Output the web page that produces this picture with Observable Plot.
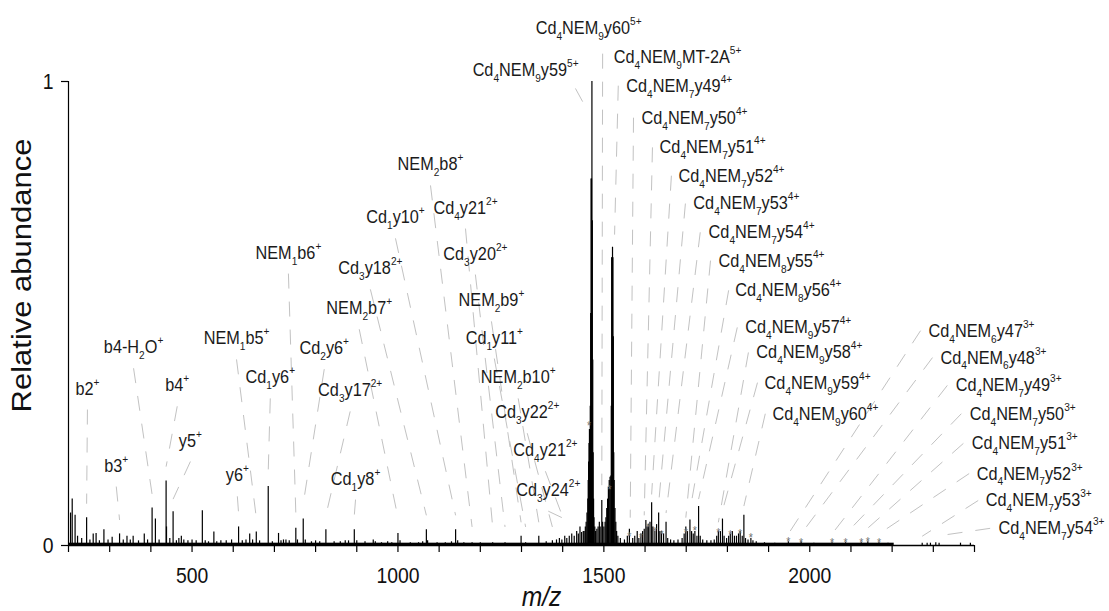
<!DOCTYPE html>
<html>
<head>
<meta charset="utf-8">
<script src="https://cdn.jsdelivr.net/npm/d3@7"></script>
<script src="https://cdn.jsdelivr.net/npm/@observablehq/plot@0.6"></script>
<style>
  html, body { margin: 0; padding: 0; background: #fff; }
  #chart svg { display: block; }
</style>
</head>
<body>
<div id="chart"></div>
<script>
// ---- data ----
// spectrum sticks: [m/z, relative abundance]
const peaks = [
  [205,0.07],[209,0.10],[216,0.065],[222,0.02],[232,0.015],[244,0.06],[252,0.012],[260,0.025],[267,0.026],
  [275,0.01],[286,0.034],[296,0.012],[306,0.018],[324,0.025],[333,0.012],[342,0.02],[350,0.012],[357,0.02],
  [370,0.01],[384,0.025],[392,0.012],[403,0.081],[411,0.057],[420,0.012],[437,0.139],[438,0.04],[446,0.015],
  [454,0.073],[462,0.01],[468,0.015],[474,0.02],[480,0.012],[490,0.01],[500,0.012],[510,0.01],[525,0.075],
  [532,0.01],[540,0.008],[553,0.029],[560,0.008],[570,0.01],[583,0.01],[596,0.012],[613,0.04],[622,0.01],
  [631,0.012],[640,0.025],[647,0.012],[656,0.029],[664,0.01],[685,0.127],[695,0.008],[710,0.026],[716,0.01],
  [722,0.012],[728,0.012],[736,0.01],[752,0.037],[756,0.012],[770,0.057],[775,0.012],[790,0.008],[800,0.01],
  [810,0.008],[825,0.034],[845,0.008],[860,0.008],[872,0.01],[880,0.01],[894,0.034],[900,0.01],[920,0.008],
  [940,0.012],[945,0.008],[960,0.006],[975,0.008],[985,0.006],[1000,0.026],[1005,0.01],[1030,0.006],
  [1050,0.006],[1060,0.008],[1069,0.034],[1072,0.01],[1095,0.006],[1115,0.006],[1130,0.008],[1140,0.034],
  [1145,0.01],[1160,0.006],[1180,0.006],[1200,0.006],[1230,0.006],[1260,0.006],[1299,0.02],[1310,0.006],
  [1342,0.02],[1360,0.008],[1375,0.01],[1385,0.012],[1392,0.015],[1398,0.012],[1405,0.02],[1410,0.015],
  [1416,0.02],[1422,0.025],[1428,0.02],[1434,0.03],[1438,0.025],[1442,0.04],[1446,0.028],[1450,0.03],
  [1452,0.03],[1455,0.04],[1457,0.05],[1459,0.07],[1461,0.10],[1462,0.14],[1463,0.18],[1464,0.22],
  [1465,0.25],[1466,0.23],[1467,0.30],[1468,0.50],[1469,0.79],[1470,0.79],[1471,1.0],[1472,0.70],
  [1473,0.40],[1474,0.20],[1475,0.10],[1476,0.06],[1478,0.04],[1480,0.03],[1483,0.035],[1486,0.04],
  [1489,0.05],[1491,0.04],[1495,0.097],[1497,0.05],[1500,0.04],[1503,0.05],[1505,0.06],[1507,0.08],
  [1509,0.10],[1511,0.125],[1513,0.14],[1515,0.147],[1517,0.15],[1518,0.30],[1519,0.62],[1520,0.62],
  [1521,0.643],[1522,0.62],[1523,0.45],[1524,0.20],[1525,0.14],[1527,0.08],[1529,0.05],[1531,0.03],
  [1534,0.02],[1540,0.015],[1550,0.012],[1557,0.02],[1562,0.035],[1570,0.015],[1575,0.02],[1581,0.03],
  [1585,0.015],[1590,0.025],[1594,0.03],[1598,0.035],[1602,0.054],[1605,0.04],[1608,0.045],[1612,0.05],
  [1616,0.092],[1619,0.04],[1624,0.03],[1628,0.045],[1633,0.07],[1636,0.03],[1640,0.03],[1645,0.025],
  [1651,0.05],[1655,0.015],[1662,0.012],[1670,0.01],[1680,0.012],[1690,0.015],[1695,0.025],[1699,0.04],
  [1703,0.03],[1709,0.055],[1713,0.03],[1717,0.025],[1721,0.03],[1726,0.02],[1730,0.084],[1734,0.02],
  [1740,0.012],[1750,0.01],[1760,0.01],[1768,0.012],[1774,0.02],[1778,0.03],[1783,0.03],[1788,0.057],
  [1792,0.02],[1798,0.015],[1803,0.02],[1807,0.025],[1812,0.03],[1817,0.02],[1822,0.02],[1827,0.025],
  [1831,0.03],[1836,0.02],[1840,0.065],[1844,0.015],[1850,0.012],[1857,0.015],[1862,0.01],[1870,0.008],
  [1890,0.006],[1915,0.005],[1948,0.008],[1979,0.008],[2010,0.005],[2054,0.006],[2087,0.006],[2125,0.006],
  [2141,0.008],[2168,0.006],[2190,0.005],[2273,0.005],[2285,0.005],[2293,0.005],[2306,0.006],[2314,0.005],
  [2366,0.005],[2390,0.005]
];
// low-level noise band along the baseline: [from m/z, to m/z, level]
const baselineNoise = [[200, 2205, 0.005]];
// asterisk marks: [m/z, abundance]
const stars = [
  [1464,0.263],[1514,0.125],[1562,0.025],[1590,0.022],[1608,0.043],[1624,0.036],[1640,0.029],[1699,0.034],
  [1721,0.038],[1778,0.034],[1807,0.029],[1831,0.031],[1857,0.022],[1948,0.014],[1979,0.012],[2054,0.012],
  [2087,0.012],[2125,0.012],[2141,0.014],[2168,0.012]
];
// annotations: [text, label m/z, label abundance, leader start m/z, leader start abundance, peak m/z, peak abundance]
// "_x" = subscript character, "^..." = superscript to the end
const fragmentLabels = [
  ["b2^+",246,0.338,null,null,244,0.09],
  ["b3^+",316,0.172,null,null,324,0.055],
  ["b4-H_2O^+",358,0.427,null,null,403,0.11],
  ["b4^+",464,0.345,null,null,437,0.17],
  ["y5^+",496,0.226,null,null,454,0.10],
  ["y6^+",610,0.151,null,null,613,0.07],
  ["NEM_1b5^+",608,0.446,null,null,656,0.06],
  ["Cd_1y6^+",690,0.362,null,null,685,0.16],
  ["Cd_2y6^+",821,0.425,null,null,770,0.09],
  ["Cd_3y17^2+",884,0.334,null,null,825,0.065],
  ["Cd_1y8^+",897,0.144,null,null,894,0.065],
  ["NEM_2b7^+",906,0.511,null,null,1000,0.06],
  ["NEM_1b6^+",734,0.631,null,null,752,0.07],
  ["Cd_3y18^2+",933,0.597,null,null,1069,0.065],
  ["Cd_1y10^+",994,0.707,null,null,1140,0.065],
  ["NEM_2b8^+",1079,0.821,null,null,1180,0.04],
  ["Cd_4y21^2+",1164,0.728,null,null,1230,0.04],
  ["Cd_3y20^2+",1188,0.629,null,null,1260,0.04],
  ["NEM_2b9^+",1227,0.528,null,null,1299,0.05],
  ["Cd_1y11^+",1234,0.448,null,null,1310,0.04],
  ["NEM_2b10^+",1292,0.362,null,null,1342,0.05],
  ["Cd_3y22^2+",1314,0.287,null,null,1375,0.04],
  ["Cd_4y21^2+",1358,0.205,null,null,1405,0.05],
  ["Cd_3y24^2+",1365,0.119,null,null,1422,0.05]
];
const fivePlusLabels = [
  ["Cd_4NEM_9y60^5+",1463,1.115,null,null,null,null],
  ["Cd_4NEM_9MT-2A^5+",1679,1.052,1497,1.06,1495,0.13],
  ["Cd_4NEM_9y59^5+",1310,1.024,1431,0.985,1463,0.933]
];
const fourPlusLabels = [
  ["Cd_4NEM_7y49^4+",1683,0.991,1535,0.991,1526,0.67],
  ["Cd_4NEM_7y50^4+",1720,0.922,1572,0.922,1564,0.06],
  ["Cd_4NEM_7y51^4+",1764,0.858,1618,0.858,1598,0.065],
  ["Cd_4NEM_7y52^4+",1810,0.797,1664,0.797,1616,0.11],
  ["Cd_4NEM_7y53^4+",1846,0.737,1698,0.737,1633,0.09],
  ["Cd_4NEM_7y54^4+",1883,0.675,1734,0.675,1651,0.07],
  ["Cd_4NEM_8y55^4+",1907,0.614,1759,0.614,1699,0.06],
  ["Cd_4NEM_8y56^4+",1948,0.55,1803,0.55,1709,0.075],
  ["Cd_4NEM_9y57^4+",1972,0.47,1824,0.47,1730,0.10],
  ["Cd_4NEM_9y58^4+",1999,0.416,1851,0.416,1778,0.05],
  ["Cd_4NEM_9y59^4+",2019,0.351,1873,0.351,1788,0.075],
  ["Cd_4NEM_9y60^4+",2038,0.284,1892,0.284,1840,0.085]
];
const threePlusLabels = [
  ["Cd_4NEM_6y47^3+",2417,0.463,2269,0.463,1948,0.025],
  ["Cd_4NEM_6y48^3+",2446,0.405,2298,0.405,1979,0.025],
  ["Cd_4NEM_7y49^3+",2483,0.345,2334,0.345,2054,0.025],
  ["Cd_4NEM_7y50^3+",2517,0.284,2368,0.284,2087,0.025],
  ["Cd_4NEM_7y51^3+",2522,0.22,2373,0.22,2125,0.025],
  ["Cd_4NEM_7y52^3+",2534,0.155,2387,0.155,2168,0.025],
  ["Cd_4NEM_7y53^3+",2556,0.097,2409,0.097,2273,0.02],
  ["Cd_4NEM_7y54^3+",2587,0.037,2438,0.037,2306,0.02]
];
const xTicks = [200,300,400,500,600,700,800,900,1000,1100,1200,1300,1400,1500,1600,1700,1800,1900,2000,2100,2200,2300,2400];
const xTickLabels = [500,1000,1500,2000];
const yTicks = [0, 1];
const yTitle = "Relative abundance";
const xTitle = "m/z";

// ---- build ----
const labels = [...fragmentLabels, ...fivePlusLabels, ...fourPlusLabels, ...threePlusLabels].map(
  ([text, lx, ly, sx, sy, tx, ty]) => ({
    text, lx, ly,
    sx: sx ?? lx, sy: sy ?? (ly - 0.045),
    tx, ty
  })
);
const leaders = labels.filter(d => d.tx != null);
const peakRows = peaks.map(([mz, ab]) => ({mz, ab}));
const starRows = stars.map(([mz, ab]) => ({mz, ab}));
const noiseRows = baselineNoise.map(([from, to, level]) => ({from, to, level}));

const FONT = "'Liberation Sans', Arial, Helvetica, sans-serif";

const chart = Plot.plot({
  width: 1109,
  height: 611,
  marginLeft: 68,
  marginRight: 135,
  marginTop: 81,
  marginBottom: 66,
  style: {background: "#fff", fontFamily: FONT, color: "#111", overflow: "visible"},
  x: {domain: [200, 2400], axis: null},
  y: {domain: [0, 1], axis: null},
  marks: [
    Plot.link(leaders, {x1: "sx", y1: "sy", x2: "tx", y2: "ty", stroke: "#c2c2c2", strokeWidth: 1, strokeDasharray: "15,13"}),
    Plot.rect(noiseRows, {x1: "from", x2: "to", y1: 0, y2: "level", fill: "#000"}),
    Plot.ruleX(peakRows, {x: "mz", y1: 0, y2: "ab", stroke: "#000", strokeWidth: 1.2}),
    Plot.ruleY([0], {stroke: "#000", strokeWidth: 1.5}),
    Plot.ruleX([200], {stroke: "#000", strokeWidth: 1.2}),
    Plot.axisX({ticks: xTicks, tickSize: 7, tickPadding: 15, fontSize: 22, stroke: "#000", strokeWidth: 1.2,
      tickFormat: d => xTickLabels.includes(d) ? String(d) : "", label: null, fill: "#111"}),
    Plot.axisY({ticks: yTicks, tickSize: 7, tickPadding: 8, fontSize: 22, stroke: "#000", strokeWidth: 1.2,
      tickFormat: d => String(d), label: null, fill: "#111"}),
    Plot.text(starRows, {x: "mz", y: "ab", text: () => "*", fontSize: 12, fill: "#707070", dy: 3}),
    Plot.text(labels, {x: "lx", y: "ly", text: "text", fontSize: 18.5, fill: "#1a1a1a", textAnchor: "middle", lineAnchor: "middle"}),
    Plot.text([yTitle], {frameAnchor: "left", dx: -46, dy: -38, rotate: -90, fontSize: 31, fill: "#111", textAnchor: "middle", lineAnchor: "middle"}),
    Plot.text([xTitle], {frameAnchor: "bottom", dx: 20, dy: 52, fontSize: 28, fontStyle: "italic", fill: "#111", textAnchor: "middle", lineAnchor: "middle"})
  ]
});

// rich text: subscripts and superscripts
const NS = "http://www.w3.org/2000/svg";
d3.select(chart).selectAll("text").each(function () {
  const s = this.textContent;
  if (/[_^]/.test(s)) {
    this.textContent = "";
    let shift = 0;
    for (const m of s.matchAll(/_(.)|\^(.+)$|([^_^]+)/g)) {
      const t = document.createElementNS(NS, "tspan");
      const target = m[1] ? 6 : m[2] ? -9 : 0;
      if (target - shift) t.setAttribute("dy", target - shift);
      shift = target;
      if (m[1] || m[2]) t.setAttribute("font-size", 11.5);
      t.textContent = m[1] ?? m[2] ?? m[3];
      this.appendChild(t);
    }
  }
  // the reference's type is horizontally condensed
  const tr = this.getAttribute("transform");
  if (tr) {
    this.setAttribute("transform", tr + (tr.includes("rotate") ? " scale(1,0.88)" : " scale(0.88,1)"));
  }
});

document.getElementById("chart").appendChild(chart);
</script>
</body>
</html>
